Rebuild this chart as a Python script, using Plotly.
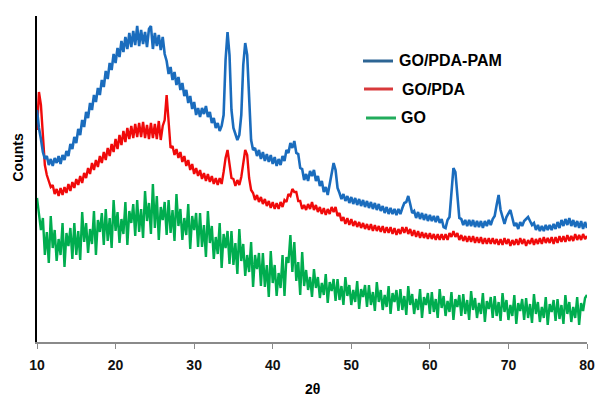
import plotly.graph_objects as go

# XRD intensities (arbitrary counts), sampled every 0.25 degrees 2θ from 10 to 80
go_pda_pam = [
    232, 214, 203, 190,  183, 186, 177, 183,  176, 184, 179, 186,  178, 187, 182, 191,
    186, 198, 193, 205,  199, 213, 207, 222,  215, 230, 224, 239,  232, 247, 240, 254,
    247, 262, 255, 271,  263, 279, 272, 288,  279, 294, 285, 301,  290, 305, 293, 309,
    295, 311, 297, 316,  296, 312, 298, 310,  295, 313, 316, 293,  309, 296, 307, 292,
    305, 288, 281, 268,  275, 262, 270, 257,  265, 252, 259, 246,  252, 239, 246, 233,
    240, 227, 234, 225,  234, 228, 236, 225,  230, 219, 224, 214,  219, 211, 216, 227,
    282, 310, 287, 232,  214, 209, 202, 207,  227, 277, 299, 287,  242, 202, 192, 194,
    186, 192, 183, 190,  181, 188, 180, 187,  178, 185, 176, 183,  177, 186, 181, 192,
    189, 199, 194, 201,  189, 188, 174, 173,  162, 168, 161, 171,  166, 172, 161, 166,
    156, 161, 150, 155,  147, 157, 170, 179,  172, 154, 149, 143,  148, 141, 146, 139,
    145, 138, 144, 137,  143, 136, 142, 135,  141, 134, 140, 133,  139, 132, 138, 131,
    136, 129, 135, 128,  134, 128, 133, 127,  133, 128, 134, 139,  140, 146, 138, 129,
    131, 124, 130, 123,  129, 122, 128, 121,  127, 121, 126, 120,  126, 119, 123, 115,
    114, 122, 125, 152,  174, 170, 142, 124,  123, 117, 122, 116,  122, 116, 122, 115,
    121, 115, 121, 114,  121, 116, 122, 117,  123, 126, 137, 147,  132, 124, 118, 125,
    128, 132, 124, 116,  119, 113, 120, 116,  121, 123, 125, 121,  117, 119, 112, 117,
    111, 116, 111, 117,  112, 117, 112, 118,  113, 120, 114, 122,  116, 123, 117, 124,
    116, 122, 115, 121,  114, 121, 113, 120,  114,
]

go_pda = [
    212, 250, 237, 202,  177, 167, 162, 155,  157, 148, 153, 146,  154, 147, 155, 149,
    158, 151, 160, 154,  163, 157, 166, 159,  169, 164, 174, 168,  179, 172, 182, 175,
    186, 179, 190, 182,  194, 186, 198, 190,  203, 193, 207, 197,  211, 200, 214, 203,
    216, 204, 218, 205,  219, 205, 220, 204,  217, 203, 219, 204,  218, 203, 221, 202,
    216, 222, 247, 217,  194, 196, 187, 193,  184, 190, 180, 186,  176, 182, 172, 178,
    168, 174, 166, 172,  163, 169, 161, 168,  160, 166, 158, 164,  157, 164, 158, 170,
    184, 192, 177, 164,  163, 156, 162, 157,  165, 177, 192, 187,  164, 152, 149, 142,
    147, 140, 145, 138,  143, 136, 141, 134,  140, 133, 139, 133,  140, 135, 142, 140,
    148, 146, 153, 150,  150, 141, 141, 133,  137, 132, 138, 133,  140, 132, 137, 130,
    135, 128, 134, 127,  133, 128, 135, 130,  135, 126, 129, 121,  125, 118, 124, 117,
    123, 116, 121, 115,  120, 114, 119, 113,  118, 112, 118, 111,  117, 111, 116, 110,
    116, 109, 115, 109,  115, 108, 114, 107,  113, 108, 115, 109,  115, 108, 113, 106,
    112, 105, 111, 104,  110, 104, 109, 103,  109, 103, 108, 102,  108, 102, 108, 102,
    108, 102, 109, 105,  111, 105, 109, 102,  107, 101, 106, 100,  106, 100, 106, 99,
    105, 99, 105, 98,    104, 98, 104, 98,    104, 98, 103, 97,    103, 97, 104, 98,
    103, 96, 102, 97,    103, 97, 104, 98,    103, 96, 102, 98,    104, 97, 103, 98,
    104, 98, 105, 99,    104, 99, 105, 98,    105, 99, 106, 100,   106, 100, 107, 101,
    106, 101, 108, 102,  107, 102, 108, 103,  106,
]

go_only = [
    144, 127, 112, 124,  87, 110, 79, 126,    94, 112, 81, 103,    87, 119, 75, 109,
    96, 114, 83, 119,    87, 111, 82, 130,    100, 119, 89, 113,   98, 131, 87, 122,
    110, 129, 97, 133,   101, 124, 94, 142,   111, 130, 99, 123,   108, 140, 97, 131,
    119, 138, 106, 142,  110, 133, 104, 151,  121, 139, 108, 158,  114, 146, 102, 135,
    122, 140, 107, 142,  109, 132, 101, 148,  116, 133, 102, 124,  107, 138, 93, 126,
    112, 129, 95, 129,   95, 117, 85, 131,    99, 116, 83, 105,    88, 119, 74, 108,
    94, 111, 78, 111,    77, 99, 68, 113,     81, 98, 66, 87,      70, 100, 55, 87,
    73, 89, 56, 89,      55, 77, 45, 91,      59, 77, 46, 69,      54, 87, 46, 85,
    79, 107, 70, 100,    61, 80, 47, 90,      56, 72, 52, 65,      45, 73, 54, 65,
    44, 59, 47, 68,      39, 60, 51, 63,      41, 63, 42, 56,      37, 65, 46, 57,
    37, 52, 40, 61,      33, 53, 45, 57,      35, 57, 37, 50,      31, 60, 40, 52,
    32, 47, 35, 56,      28, 49, 40, 52,      31, 53, 32, 46,      27, 56, 37, 48,
    28, 43, 32, 53,      24, 45, 37, 49,      28, 50, 30, 43,      24, 53, 34, 46,
    26, 41, 30, 50,      22, 43, 35, 47,      26, 48, 28, 42,      22, 51, 32, 44,
    24, 39, 28, 49,      20, 41, 33, 45,      24, 46, 26, 40,      21, 49, 30, 42,
    22, 37, 26, 47,      18, 39, 31, 43,      22, 44, 24, 38,      19, 48, 28, 40,
    20, 35, 24, 45,      17, 38, 30, 42,      21, 43, 23, 37,      18, 47, 28, 40,
    20, 35, 24, 45,      17, 39, 31, 44,      47,
]

two_theta = [10 + 0.25 * i for i in range(281)]
assert len(go_pda_pam) == 281, len(go_pda_pam)
assert len(go_pda) == 281, len(go_pda)
assert len(go_only) == 281, len(go_only)

series_names = ["GO/PDA-PAM", "GO/PDA", "GO"]
line_colors = ["#1a6cbd", "#f00a0a", "#00ad4f"]
legend_colors = ["#2d6594", "#d8393b", "#22ac5c"]
x_ticks = [10, 20, 30, 40, 50, 60, 70, 80]

W, H = 598, 397
L, R, T, B = 37, 11, 16, 55
pw, ph = W - L - R, H - T - B

def px(xp):
    return (xp - L) / pw

def py(yp):
    return (H - B - yp) / ph

fig = go.Figure()
for name, vals, col, wd in zip(["GO", "GO/PDA", "GO/PDA-PAM"],
                               [go_only, go_pda, go_pda_pam],
                               [line_colors[2], line_colors[1], line_colors[0]],
                               [2.4, 2.4, 2.6]):
    fig.add_trace(go.Scatter(x=two_theta, y=vals, mode="lines", name=name,
                             line=dict(color=col, width=wd), showlegend=False))

font = "Liberation Sans, Arial, sans-serif"
fig.update_layout(
    width=W, height=H, autosize=False,
    margin=dict(l=L, r=R, t=T, b=B, autoexpand=False),
    paper_bgcolor="white", plot_bgcolor="white",
    font=dict(family=font, color="black"),
    xaxis=dict(range=[10, 80], tickvals=x_ticks,
               ticktext=[f"<b>{t}</b>" for t in x_ticks],
               tickfont=dict(size=14, color="#111"),
               showline=True, linecolor="#8a8a8a", linewidth=1.5,
               ticks="outside", ticklen=5, tickcolor="#8a8a8a", tickwidth=1.2,
               ticklabelstandoff=4, automargin=False,
               showgrid=False, zeroline=False),
    yaxis=dict(range=[0, 326], showticklabels=False, ticks="",
               showline=True, linecolor="black", linewidth=2,
               automargin=False, showgrid=False, zeroline=False),
)

# Legend (drawn manually to match the reference layout)
legend_rows = [(363, 393, 61, 397), (364, 393, 89, 400), (366, 396, 118, 399)]
for (x0, x1, yy, tx), name, col in zip(legend_rows, series_names, legend_colors):
    fig.add_shape(type="line", xref="paper", yref="paper",
                  x0=px(x0), x1=px(x1), y0=py(yy), y1=py(yy),
                  line=dict(color=col, width=3))
    fig.add_annotation(text=f"<b>{name}</b>", xref="paper", yref="paper",
                       x=px(tx), y=py(yy), xanchor="left", yanchor="middle",
                       showarrow=False, font=dict(size=16, color="black", family=font))

fig.add_annotation(text="<b>2θ</b>", xref="paper", yref="paper",
                   x=px(312), y=py(389), xanchor="center", yanchor="middle",
                   showarrow=False, font=dict(size=14, color="black", family=font))
fig.add_annotation(text="<b>Counts</b>", xref="paper", yref="paper",
                   x=px(17.5), y=py(158), xanchor="center", yanchor="middle",
                   textangle=-90, showarrow=False,
                   font=dict(size=14, color="black", family=font))

fig.write_html("out.html")
